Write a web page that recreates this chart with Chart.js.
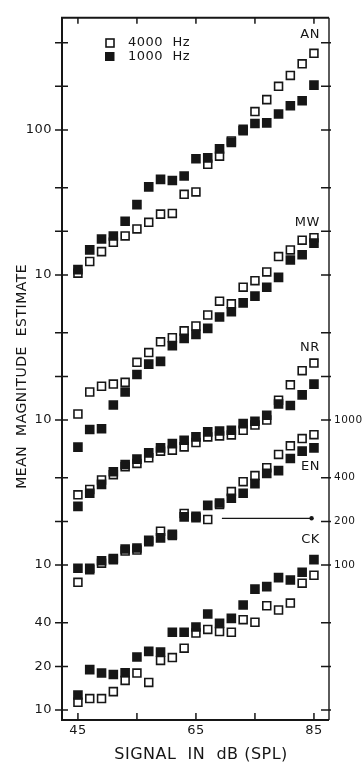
<!DOCTYPE html>
<html>
<head>
<meta charset="utf-8">
<script src="https://cdn.jsdelivr.net/npm/chart.js@4.4.1/dist/chart.umd.min.js"></script>
<style>
  html, body { margin: 0; padding: 0; background: #fff; }
</style>
</head>
<body>
<canvas id="magchart" width="362" height="763"></canvas>
<script>
// signal level of every point (dB SPL)
const signalDb = [45, 47, 49, 51, 53, 55, 57, 59, 61, 63, 65, 67, 69, 71, 73, 75, 77, 79, 81, 83, 85];

// mean magnitude estimates, per subject
const an4000 = [10.3, 12.4, 14.5, 16.8, 18.6, 20.8, 23.1, 26.3, 26.6, 36, 37.4, 58, 66, 84, 101, 134, 162, 200, 238, 286, 338];
const an1000 = [10.9, 14.9, 17.7, 18.6, 23.5, 30.6, 40.5, 45.7, 44.9, 48.2, 63.3, 64.3, 74.1, 82.1, 98.9, 111, 112, 129, 147, 159, 204];
const mw4000 = [1.1, 1.56, 1.71, 1.77, 1.82, 2.5, 2.92, 3.46, 3.7, 4.12, 4.45, 5.3, 6.6, 6.33, 8.24, 9.14, 10.5, 13.4, 14.9, 17.4, 18.1];
const mw1000 = [0.65, 0.86, 0.87, 1.27, 1.56, 2.06, 2.43, 2.54, 3.25, 3.66, 3.9, 4.29, 5.13, 5.58, 6.43, 7.15, 8.24, 9.64, 12.7, 13.8, 16.6];
const nr4000 = [3.05, 3.32, 3.86, 4.2, 4.77, 5.02, 5.49, 6.1, 6.2, 6.53, 6.99, 7.65, 7.77, 7.89, 8.5, 9.24, 10, 13.7, 17.5, 21.9, 24.7];
const nr1000 = [2.54, 3.13, 3.6, 4.4, 4.94, 5.38, 5.94, 6.43, 6.88, 7.26, 7.65, 8.28, 8.41, 8.5, 9.44, 9.8, 10.8, 12.9, 12.6, 14.9, 17.7];
const en4000 = [76, 93, 103, 109, 125, 127, 145, 171, 160, 227, 217, 206, 262, 321, 376, 414, 469, 579, 664, 745, 793];
const en1000 = [95, 95, 107, 111, 129, 131, 148, 154, 163, 215, 212, 258, 268, 289, 313, 364, 429, 448, 543, 610, 643];
const ck4000 = [11.3, 12, 12, 13.4, 16, 18, 15.5, 22, 23, 26.7, 34, 36, 34.8, 34.4, 42, 40.3, 52.4, 49, 54.7, 75, 85];
const ck1000 = [12.7, 19, 18, 17.6, 18.1, 23.2, 25.4, 25.1, 34.4, 34.4, 37.4, 46, 39.6, 42.9, 53, 68.2, 71, 81.9, 78.9, 89.1, 109];

// subjects are stacked on one log axis, each moved up by a factor
const subjects = ["AN", "MW", "NR", "EN", "CK"];
const subjectShift = [1000, 1000, 100, 1, 1];
const subjectLabelValue = [454, 23, 31.5, 477, 149];
const open4000 = [an4000, mw4000, nr4000, en4000, ck4000];
const filled1000 = [an1000, mw1000, nr1000, en1000, ck1000];

// EN reference arrow (to 200 on right axis)
const arrowDb = [69.4, 84.6];
const arrowValue = 210;

// axes
const xTicks = [45, 55, 65, 75, 85];
const xTickLabels = ["45", "", "65", "", "85"];
const yTicks = [10, 20, 40, 100, 200, 400, 1000, 2000, 4000, 10000, 20000, 40000, 100000, 200000, 400000];
const leftTickLabels = ["10", "20", "40", "10", "", "", "10", "", "", "10", "", "", "100", "", ""];
const rightTickLabels = ["", "", "", "100", "200", "400", "1000", "", "", "", "", "", "", "", ""];

const ink = "#161616";
const fontName = "'DejaVu Sans', sans-serif";

const datasets = [];
subjects.forEach((name, k) => {
	datasets.push({
		label: name + " 1000 Hz",
		data: filled1000[k].map((v, i) => ({ x: signalDb[i], y: v * subjectShift[k] })),
		pointStyle: "rect",
		pointRadius: 6.8,
		backgroundColor: ink,
		borderColor: ink,
		borderWidth: 0,
		order: 1
	});
	datasets.push({
		label: name + " 4000 Hz",
		data: open4000[k].map((v, i) => ({ x: signalDb[i], y: v * subjectShift[k] })),
		pointStyle: "rect",
		pointRadius: 5.6,
		backgroundColor: "#fff",
		borderColor: ink,
		borderWidth: 1.6,
		order: 2
	});
});
datasets.push({
	label: "EN arrow",
	data: arrowDb.map((d) => ({ x: d, y: arrowValue })),
	showLine: true,
	borderColor: ink,
	borderWidth: 1.2,
	pointRadius: [0, 2.2],
	pointBackgroundColor: ink,
	pointBorderWidth: 0,
	order: 0
});

// frame, inward ticks, legend and subject labels
const framePlugin = {
	id: "frame",
	beforeDraw(chart) {
		chart.ctx.letterSpacing = "0.5px";
	},
	afterDraw(chart) {
		const ctx = chart.ctx;
		const a = chart.chartArea;
		const xs = chart.scales.x;
		const ys = chart.scales.y;
		ctx.save();
		ctx.strokeStyle = ink;
		ctx.lineWidth = 2;
		ctx.beginPath();
		ctx.moveTo(a.right, a.top);
		ctx.lineTo(a.left, a.top);
		ctx.lineTo(a.left, a.bottom);
		ctx.lineTo(a.right, a.bottom);
		ctx.stroke();
		ctx.lineWidth = 1.4;
		ctx.beginPath();
		ctx.moveTo(a.right, a.top);
		ctx.lineTo(a.right, a.bottom);
		ctx.stroke();

		ctx.lineWidth = 1.5;
		ctx.beginPath();
		xTicks.forEach((v) => {
			const px = xs.getPixelForValue(v);
			ctx.moveTo(px, a.bottom);
			ctx.lineTo(px, a.bottom - 7);
			ctx.moveTo(px, a.top);
			ctx.lineTo(px, a.top + 6);
		});
		yTicks.forEach((v) => {
			const py = ys.getPixelForValue(v);
			ctx.moveTo(a.left - 7, py);
			ctx.lineTo(a.left + 6, py);
			ctx.moveTo(a.right - 8, py);
			ctx.lineTo(a.right + 2, py);
		});
		ctx.stroke();

		// legend
		ctx.fillStyle = ink;
		ctx.font = "13px " + fontName;
		ctx.textAlign = "right";
		ctx.textBaseline = "middle";
		ctx.fillText("4000  Hz", 190, 43);
		ctx.fillText("1000  Hz", 190, 57);
		ctx.lineWidth = 1.6;
		ctx.strokeRect(106, 39, 8, 8);
		ctx.fillRect(105, 52, 9.5, 9);

		// subject labels
		subjects.forEach((name, k) => {
			ctx.fillText(name, xs.getPixelForValue(86), ys.getPixelForValue(subjectLabelValue[k] * subjectShift[k]));
		});
		ctx.restore();
		ctx.letterSpacing = "0px";
	}
};

new Chart(document.getElementById("magchart").getContext("2d"), {
	type: "scatter",
	data: { datasets: datasets },
	options: {
		responsive: false,
		animation: false,
		devicePixelRatio: 1,
		layout: { padding: { top: 13, left: 0, right: 0, bottom: 0 } },
		plugins: {
			legend: { display: false },
			tooltip: { enabled: false }
		},
		scales: {
			x: {
				type: "linear",
				min: 42.3,
				max: 87.55,
				afterBuildTicks: (s) => { s.ticks = xTicks.map((v) => ({ value: v })); },
				afterFit: (s) => { s.height = 43; },
				grid: { display: false, drawTicks: false },
				border: { display: false },
				ticks: {
					callback: (v, i) => xTickLabels[i],
					color: ink,
					font: { family: fontName, size: 13 },
					padding: 3,
					maxRotation: 0,
					autoSkip: false
				},
				title: {
					display: true,
					text: "  SIGNAL  IN  dB (SPL)",
					color: ink,
					font: { family: fontName, size: 16, lineHeight: 1 },
					padding: { top: 0, bottom: 0 }
				}
			},
			y: {
				type: "logarithmic",
				position: "left",
				min: 8.54,
				max: 594000,
				afterBuildTicks: (s) => { s.ticks = yTicks.map((v) => ({ value: v })); },
				afterFit: (s) => { s.width = 62; },
				grid: { display: false, drawTicks: false },
				border: { display: false },
				ticks: {
					callback: (v, i) => leftTickLabels[i],
					color: ink,
					font: { family: fontName, size: 13 },
					padding: 10,
					autoSkip: false
				},
				title: {
					display: true,
					text: "MEAN  MAGNITUDE  ESTIMATE   ",
					color: ink,
					font: { family: fontName, size: 14, lineHeight: 1 },
					padding: { top: 15, bottom: 0 }
				}
			},
			y2: {
				type: "logarithmic",
				position: "right",
				min: 8.54,
				max: 594000,
				afterBuildTicks: (s) => { s.ticks = yTicks.map((v) => ({ value: v })); },
				afterFit: (s) => { s.width = 33; },
				grid: { display: false, drawTicks: false },
				border: { display: false },
				ticks: {
					callback: (v, i) => rightTickLabels[i],
					color: ink,
					font: { family: fontName, size: 10.5 },
					padding: 5,
					autoSkip: false
				}
			}
		}
	},
	plugins: [framePlugin]
});
</script>
</body>
</html>
